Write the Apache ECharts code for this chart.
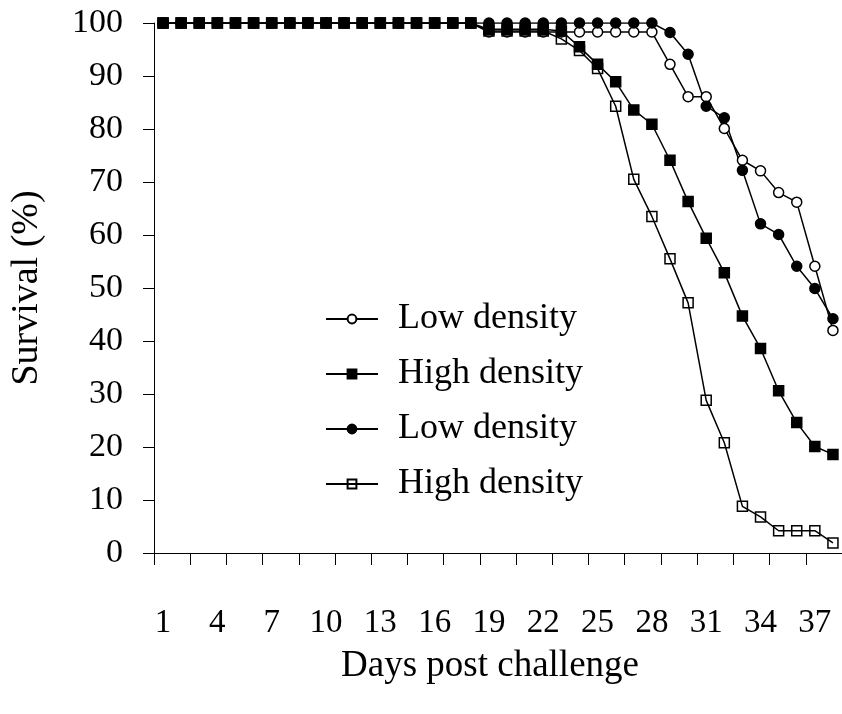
<!DOCTYPE html>
<html>
<head>
<meta charset="utf-8">
<script src="https://cdn.jsdelivr.net/npm/echarts@6/dist/echarts.min.js"></script>
<style>html,body{margin:0;padding:0;background:#fff}#c{width:842px;height:714px}</style>
</head>
<body>
<div id="c"></div>
<script>
var days = ['1','2','3','4','5','6','7','8','9','10','11','12','13','14','15','16','17','18','19','20',
            '21','22','23','24','25','26','27','28','29','30','31','32','33','34','35','36','37','38'];
var seriesNames = ['Low density', 'High density', 'Low density ', 'High density '];
var lowOpenCircle = [100,100,100,100,100,100,100,100,100,100,100,100,100,100,100,100,100,100,
  98.3,98.3,98.3,98.3,98.3,98.3,98.3,98.3,98.3,98.3,
  92.2,86.1,86.1,80.1,74.1,72.1,68.0,66.2,54.1,42.0];
var highFilledSquare = [100,100,100,100,100,100,100,100,100,100,100,100,100,100,100,100,100,100,
  98.8,98.8,98.8,98.8,
  98.5,95.5,92.2,88.9,83.6,80.9,74.1,66.3,59.4,52.9,44.7,38.6,30.6,24.6,20.1,18.6];
var lowFilledCircle = [100,100,100,100,100,100,100,100,100,100,100,100,100,100,100,100,100,100,
  100,100,100,100,100,100,100,100,100,100,
  98.2,94.1,84.3,82.1,72.2,62.1,60.1,54.1,49.9,44.2];
var highOpenSquare = [100,100,100,100,100,100,100,100,100,100,100,100,100,100,100,100,100,100,
  98.5,98.5,98.5,98.5,
  97.0,94.8,91.4,84.3,70.5,63.5,55.5,47.2,28.8,20.8,8.8,6.8,4.2,4.2,4.2,1.9];
var yTicks = [0,10,20,30,40,50,60,70,80,90,100];

var FONT = '"Liberation Serif", "Times New Roman", serif';
var chart = echarts.init(document.getElementById('c'), null, {renderer: 'canvas'});

function mk(name, data, symbol, fill) {
  return {
    name: name, type: 'line', data: data, symbol: symbol, symbolSize: 10,
    showAllSymbol: true,
    lineStyle: {color: '#000', width: 1.5},
    itemStyle: {color: fill, borderColor: '#000', borderWidth: 1.5},
    emphasis: {disabled: true}
  };
}

chart.setOption({
  animation: false,
  backgroundColor: '#fff',
  grid: {left: 153, top: 23, bottom: 161, right: -4.5, containLabel: false},
  legend: {
    orient: 'vertical', left: 320, top: 296,
    itemWidth: 52, itemHeight: 11, itemGap: 19,
    textStyle: {fontFamily: FONT, fontSize: 36, color: '#000', padding: [0,0,0,15]},
    data: seriesNames
  },
  xAxis: {
    type: 'category', data: days, boundaryGap: true,
    name: 'Days post challenge', nameLocation: 'middle', nameGap: 95,
    nameTextStyle: {fontFamily: FONT, fontSize: 37, color: '#000', padding: [0, 16, 0, 0]},
    axisLine: {show: true, lineStyle: {color: '#000', width: 1}},
    axisTick: {show: true, inside: false, interval: 1, length: 12, lineStyle: {color: '#000', width: 1}},
    axisLabel: {show: true, interval: 2, margin: 54, fontFamily: FONT, fontSize: 33, color: '#000'},
    splitLine: {show: false}
  },
  yAxis: {
    type: 'value', min: 0, max: 100, interval: 10,
    name: 'Survival (%)', nameLocation: 'middle', nameGap: 108, nameRotate: 90,
    nameTextStyle: {fontFamily: FONT, fontSize: 38, color: '#000'},
    axisLine: {show: true, lineStyle: {color: '#000', width: 1}},
    axisTick: {show: true, inside: false, length: 11, lineStyle: {color: '#000', width: 1}},
    axisLabel: {margin: 31, fontFamily: FONT, fontSize: 34, color: '#000',
      formatter: function (v) { return yTicks.indexOf(v) >= 0 ? String(v) : ''; }},
    splitLine: {show: false}
  },
  series: [
    mk(seriesNames[0], lowOpenCircle, 'circle', '#fff'),
    mk(seriesNames[1], highFilledSquare, 'rect', '#000'),
    mk(seriesNames[2], lowFilledCircle, 'circle', '#000'),
    mk(seriesNames[3], highOpenSquare, 'rect', 'rgba(0,0,0,0)')
  ]
});
</script>
</body>
</html>
